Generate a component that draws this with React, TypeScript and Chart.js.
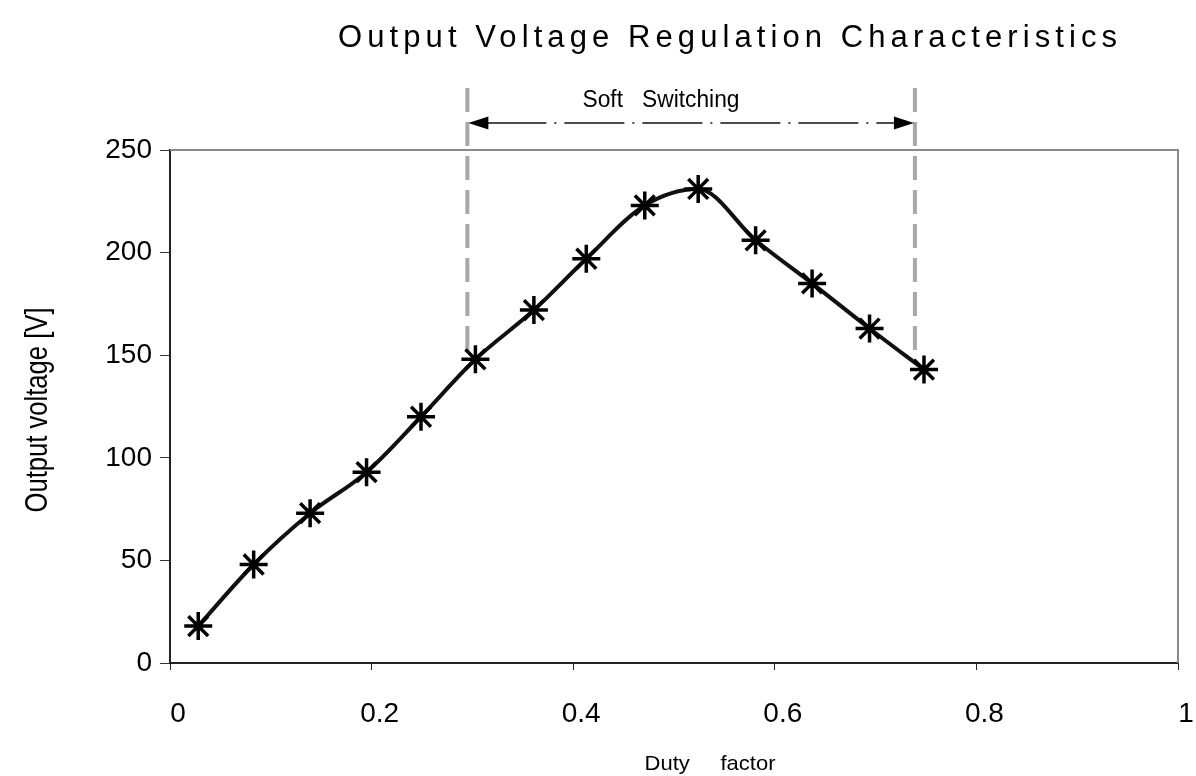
import React, { useEffect, useRef } from "react";
import { Chart, registerables } from "chart.js";

Chart.register(...registerables);

// ---- data ----
const dutyFactor = [0.028, 0.083, 0.139, 0.195, 0.249, 0.303, 0.361, 0.413, 0.471, 0.524, 0.581, 0.637, 0.694, 0.748];
const outputVoltage = [18, 48, 73, 93, 120, 148, 172, 197, 223, 231, 206, 185, 163, 143];
const xTickValues = [0, 0.2, 0.4, 0.6, 0.8, 1];
const yTickValues = [0, 50, 100, 150, 200, 250];
const softSwitchingRange = [0.295, 0.739];
const softLineBottomValue = 150;

const titleText = "Output Voltage Regulation Characteristics";
const yAxisTitle = "Output voltage [V]";
const xAxisTitle = "Duty     factor";
const softLabel = "Soft   Switching";

const FONT = '"Liberation Sans", Arial, sans-serif';

function drawFitted(
  ctx: CanvasRenderingContext2D,
  text: string,
  x: number,
  y: number,
  size: number,
  width: number,
  rot = 0
) {
  ctx.save();
  ctx.translate(x, y);
  ctx.rotate(rot);
  ctx.font = `${size}px ${FONT}`;
  const w = ctx.measureText(text).width;
  ctx.scale(width / w, 1);
  ctx.textAlign = "center";
  ctx.textBaseline = "alphabetic";
  ctx.fillStyle = "#000";
  ctx.fillText(text, 0, 0);
  ctx.restore();
}

const underlay = {
  id: "underlay",
  beforeDatasetsDraw(chart: any) {
    const { ctx, chartArea: a, scales } = chart;
    const x = scales.x;
    const y = scales.y;
    ctx.save();
    // top and right frame (grey)
    ctx.strokeStyle = "#8a8a8a";
    ctx.lineWidth = 2;
    ctx.beginPath();
    ctx.moveTo(a.left, a.top);
    ctx.lineTo(a.right, a.top);
    ctx.lineTo(a.right, a.bottom);
    ctx.stroke();
    // soft switching boundary lines
    ctx.strokeStyle = "#a8a8a8";
    ctx.lineWidth = 4;
    ctx.setLineDash([24, 10]);
    const yb = y.getPixelForValue(softLineBottomValue);
    softSwitchingRange.forEach((v) => {
      const px = x.getPixelForValue(v);
      ctx.beginPath();
      ctx.moveTo(px, 88);
      ctx.lineTo(px, yb);
      ctx.stroke();
    });
    ctx.restore();
  },
  afterDraw(chart: any) {
    const { ctx, scales } = chart;
    const x = scales.x;
    ctx.save();
    // title with letter spacing
    ctx.font = `31px ${FONT}`;
    const natural = ctx.measureText(titleText).width;
    const ls = (779 - natural) / (titleText.length - 1);
    (ctx as any).letterSpacing = `${ls}px`;
    ctx.fillStyle = "#000";
    ctx.textAlign = "left";
    ctx.textBaseline = "alphabetic";
    ctx.fillText(titleText, 338, 47);
    (ctx as any).letterSpacing = "0px";
    ctx.restore();

    // axis titles
    drawFitted(ctx, yAxisTitle, 47, 410, 31, 205, -Math.PI / 2);
    drawFitted(ctx, xAxisTitle, 710, 770, 21, 131);

    // soft switching arrow
    const x1 = x.getPixelForValue(softSwitchingRange[0]) + 1;
    const x2 = x.getPixelForValue(softSwitchingRange[1]) - 1;
    const ay = 123;
    ctx.save();
    ctx.strokeStyle = "#111";
    ctx.lineWidth = 1.5;
    ctx.setLineDash([60, 8, 2, 8]);
    ctx.beginPath();
    ctx.moveTo(x1 + 18, ay);
    ctx.lineTo(x2 - 18, ay);
    ctx.stroke();
    ctx.setLineDash([]);
    ctx.fillStyle = "#000";
    ctx.beginPath();
    ctx.moveTo(x1, ay);
    ctx.lineTo(x1 + 20, ay - 6.5);
    ctx.lineTo(x1 + 20, ay + 6.5);
    ctx.closePath();
    ctx.fill();
    ctx.beginPath();
    ctx.moveTo(x2, ay);
    ctx.lineTo(x2 - 20, ay - 6.5);
    ctx.lineTo(x2 - 20, ay + 6.5);
    ctx.closePath();
    ctx.fill();
    ctx.restore();

    drawFitted(ctx, softLabel, 661, 107, 23, 157);
  },
};

export default function App() {
  const canvasRef = useRef<HTMLCanvasElement | null>(null);

  useEffect(() => {
    if (!canvasRef.current) return;
    const chart = new Chart(canvasRef.current, {
      type: "line",
      data: {
        datasets: [
          {
            label: "Output voltage",
            data: dutyFactor.map((d, i) => ({ x: d, y: outputVoltage[i] })),
            borderColor: "#111",
            borderWidth: 4,
            cubicInterpolationMode: "monotone",
            pointStyle: "star",
            pointRadius: 14,
            pointBorderWidth: 3.5,
            pointBorderColor: "#000",
            pointBackgroundColor: "#000",
            fill: false,
          },
        ],
      },
      options: {
        responsive: false,
        animation: false,
        devicePixelRatio: 1,
        layout: { padding: { left: 0, right: 18, top: 150, bottom: 0 } },
        plugins: {
          legend: { display: false },
          title: { display: false },
          tooltip: { enabled: false },
        },
        scales: {
          x: {
            type: "linear",
            min: 0,
            max: 1,
            afterBuildTicks: (s: any) => {
              s.ticks = xTickValues.map((v) => ({ value: v }));
            },
            afterFit: (s: any) => {
              s.height = 113;
              s.paddingLeft = 0;
              s.paddingRight = 0;
            },
            ticks: {
              color: "#000",
              font: { family: FONT, size: 28 },
              padding: 27,
              labelOffset: 8,
              maxRotation: 0,
              autoSkip: false,
              callback: (v: any) => String(Math.round(Number(v) * 10) / 10),
            },
            grid: {
              display: true,
              drawOnChartArea: false,
              drawTicks: true,
              tickLength: 7,
              color: "#222",
              lineWidth: 1,
            },
            border: { display: true, color: "#222", width: 2 },
          },
          y: {
            type: "linear",
            min: 0,
            max: 250,
            afterBuildTicks: (s: any) => {
              s.ticks = yTickValues.map((v) => ({ value: v }));
            },
            afterFit: (s: any) => {
              s.width = 170;
              s.paddingTop = 0;
              s.paddingBottom = 0;
            },
            ticks: {
              color: "#000",
              font: { family: FONT, size: 28 },
              padding: 8,
              autoSkip: false,
            },
            grid: {
              display: true,
              drawOnChartArea: false,
              drawTicks: true,
              tickLength: 10,
              color: "#333",
              lineWidth: 1,
            },
            border: { display: true, color: "#222", width: 2 },
          },
        },
      },
      plugins: [underlay],
    });
    return () => chart.destroy();
  }, []);

  return (
    <div style={{ position: "fixed", left: 0, top: 0, width: 1196, height: 776, background: "#fff" }}>
      <canvas ref={canvasRef} width={1196} height={776} />
    </div>
  );
}
